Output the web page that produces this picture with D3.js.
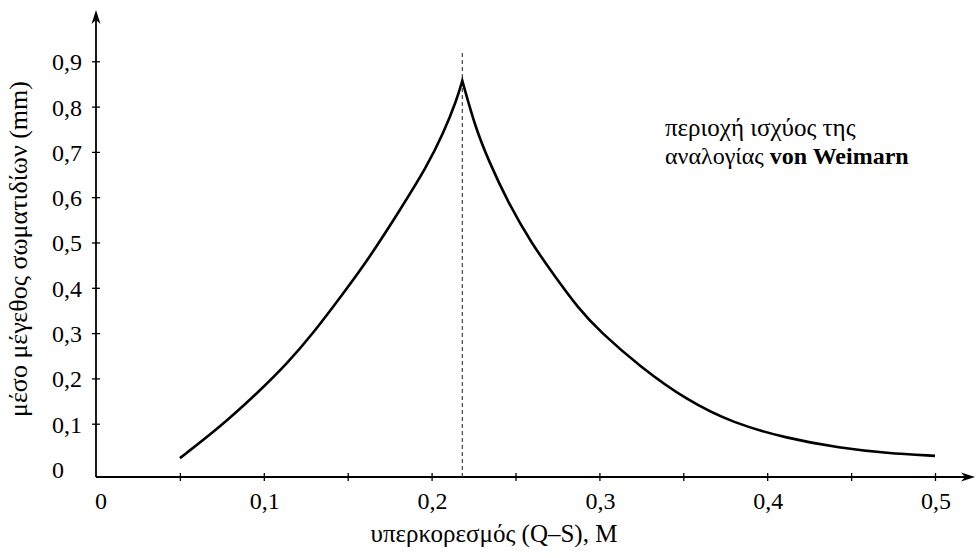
<!DOCTYPE html>
<html>
<head>
<meta charset="utf-8">
<script src="https://cdn.jsdelivr.net/npm/d3@7"></script>
<style>
  body { margin: 0; background: #fff; }
</style>
</head>
<body>
<svg id="chart"></svg>
<script>
const width = 976;
const height = 558;
const FONT = "'Liberation Serif', 'Times New Roman', Times, serif";

// rising branch (left of the maximum)
const riseX = [0.05, 0.074, 0.096, 0.114, 0.1295, 0.1474, 0.1623, 0.1812, 0.1971, 0.207, 0.215, 0.2183];
const riseY = [0.024, 0.093, 0.167, 0.233, 0.300, 0.388, 0.463, 0.572, 0.667, 0.741, 0.815, 0.857];

// falling branch (right of the maximum)
const fallX = [0.2183, 0.2259, 0.2338, 0.2457, 0.2596, 0.2735, 0.2874, 0.3004, 0.3242, 0.352, 0.3798, 0.4116, 0.4434, 0.4712, 0.5];
const fallY = [0.857, 0.756, 0.682, 0.587, 0.498, 0.425, 0.355, 0.303, 0.226, 0.152, 0.101, 0.068, 0.046, 0.035, 0.029];

const peakX = 0.2183;

const xTicks = [0.05, 0.1, 0.15, 0.2, 0.25, 0.3, 0.35, 0.4, 0.45, 0.5];
const xLabels = [0, 0.1, 0.2, 0.3, 0.4, 0.5];
const yTicks = [0, 0.1, 0.2, 0.3, 0.4, 0.5, 0.6, 0.7, 0.8, 0.9];

const xTitle = "υπερκορεσμός (Q–S), M";
const yTitle = "μέσο μέγεθος σωματιδίων (mm)";
const noteLine1 = "περιοχή ισχύος της";
const noteLine2 = "αναλογίας ";
const noteBold = "von Weimarn";

const layout = {axisX: 96, axisY: 477, xEnd: 975, yTop: 10, fontSize: 24};

const svg = d3.select("#chart")
    .attr("width", width)
    .attr("height", height)
    .style("font-family", FONT);

const x = d3.scaleLinear().domain([0, 0.5]).range([96, 935]);
const y = d3.scaleLinear().domain([0, 0.9]).range([469, 61.3]);

const greek = d3.formatLocale({decimal: ",", thousands: ".", grouping: [3], currency: ["", "€"]});
const fmt = (v) => v === 0 ? "0" : greek.format(".1f")(v);

// x axis with ticks crossing the line
const gx = svg.append("g")
    .attr("transform", `translate(0,${layout.axisY})`)
    .call(d3.axisBottom(x).tickValues(xTicks).tickSize(4).tickFormat(""));
gx.select(".domain").remove();
gx.selectAll(".tick line").attr("y1", -4).attr("y2", 4).attr("stroke", "#000").attr("stroke-width", 1.3);

svg.append("g")
    .selectAll("text")
    .data(xLabels)
    .join("text")
    .attr("x", d => x(d) + (d === 0 ? 5 : 1))
    .attr("y", 509)
    .attr("text-anchor", "middle")
    .attr("font-family", FONT)
    .attr("font-size", layout.fontSize)
    .text(fmt);

// y axis
const gy = svg.append("g")
    .attr("transform", `translate(${layout.axisX},0)`)
    .call(d3.axisLeft(y).tickValues(yTicks).tickSize(4).tickFormat(fmt));
gy.attr("font-family", FONT).attr("font-size", layout.fontSize);
gy.select(".domain").remove();
gy.selectAll(".tick line").attr("x1", -4).attr("x2", 4).attr("stroke", "#000").attr("stroke-width", 1.3);
gy.selectAll(".tick").filter(d => d === 0).select("line").remove();
gy.selectAll(".tick text")
    .attr("x", -44)
    .attr("dy", "0.35em")
    .attr("text-anchor", "start")
    .attr("fill", "#000");

// axis lines
svg.append("line")
    .attr("x1", layout.axisX).attr("y1", layout.axisY)
    .attr("x2", layout.xEnd - 4).attr("y2", layout.axisY)
    .attr("stroke", "#000").attr("stroke-width", 1.8);
svg.append("line")
    .attr("x1", layout.axisX).attr("y1", layout.axisY)
    .attr("x2", layout.axisX).attr("y2", layout.yTop + 4)
    .attr("stroke", "#000").attr("stroke-width", 1.8);

// arrow heads
const arrow = "M0,0 L-14,-4.5 L-10,0 L-14,4.5 Z";
svg.append("path")
    .attr("d", arrow)
    .attr("transform", `translate(${layout.xEnd},${layout.axisY})`)
    .attr("fill", "#000");
svg.append("path")
    .attr("d", arrow)
    .attr("transform", `translate(${layout.axisX},${layout.yTop}) rotate(-90)`)
    .attr("fill", "#000");

// dashed line through the maximum
svg.append("line")
    .attr("x1", x(peakX)).attr("x2", x(peakX))
    .attr("y1", 53).attr("y2", layout.axisY)
    .attr("stroke", "#333")
    .attr("stroke-width", 1.1)
    .attr("stroke-dasharray", "4,3");

// curve: two smoothed branches joined at the cusp
const line = d3.line()
    .x(d => x(d[0]))
    .y(d => y(d[1]))
    .curve(d3.curveBasis);

const risePath = line(d3.zip(riseX, riseY));
const fallPath = line(d3.zip(fallX, fallY));

svg.append("path")
    .attr("d", risePath + fallPath.replace(/^M/, "L"))
    .attr("fill", "none")
    .attr("stroke", "#000")
    .attr("stroke-width", 2.6)
    .attr("stroke-linejoin", "miter")
    .attr("stroke-miterlimit", 20);

// titles
svg.append("text")
    .attr("x", 494)
    .attr("y", 542)
    .attr("text-anchor", "middle")
    .attr("font-family", FONT)
    .attr("font-size", 25)
    .text(xTitle);

svg.append("text")
    .attr("transform", "translate(27,249) rotate(-90)")
    .attr("text-anchor", "middle")
    .attr("font-family", FONT)
    .attr("font-size", 26)
    .text(yTitle);

// annotation
svg.append("text")
    .attr("x", 665)
    .attr("y", 136)
    .attr("font-family", FONT)
    .attr("font-size", 25)
    .text(noteLine1);

const t2 = svg.append("text")
    .attr("x", 665)
    .attr("y", 164)
    .attr("font-family", FONT)
    .attr("font-size", 24);
t2.append("tspan").text(noteLine2);
t2.append("tspan").attr("font-weight", "bold").text(noteBold);
</script>
</body>
</html>
